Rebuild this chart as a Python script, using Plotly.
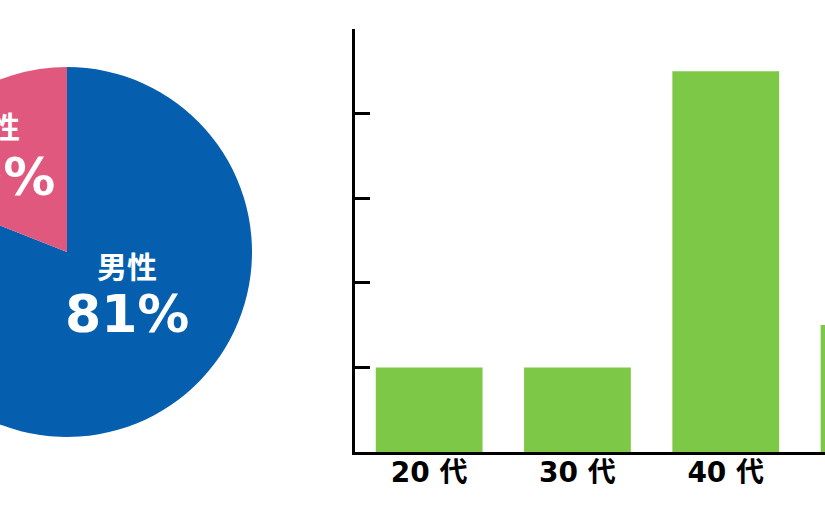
import plotly.graph_objects as go

# ---- data ----
gender_labels = ["男性", "女性"]
gender_values = [81, 19]
gender_colors = ["#055FAE", "#E0587D"]

age_labels = ["20 代", "30 代", "40 代", "50 代"]
age_values = [2, 2, 9, 3]
bar_color = "#7DC846"

# ---- layout geometry (figure is wider than the view and shifted left) ----
SHIFT = 130          # px hidden on the left
W, H = 1120, 510

def px(x):           # viewport x -> paper x
    return (x + SHIFT) / W

def py(y):           # viewport y (from top) -> paper y
    return (H - y) / H

fig = go.Figure()

fig.add_trace(go.Pie(
    labels=gender_labels,
    values=gender_values,
    marker=dict(colors=gender_colors, line=dict(width=0)),
    sort=False,
    direction="clockwise",
    rotation=0,
    textinfo="none",
    hoverinfo="skip",
    showlegend=False,
    domain=dict(x=[px(67 - 185), px(67 + 185)], y=[py(437), py(67)]),
))

fig.add_trace(go.Bar(
    x=age_labels,
    y=age_values,
    marker=dict(color=bar_color, line=dict(width=0)),
    hoverinfo="skip",
    showlegend=False,
))

fig.update_layout(
    width=W, height=H,
    margin=dict(l=0, r=0, t=0, b=0),
    paper_bgcolor="white",
    plot_bgcolor="white",
    bargap=0.28,
    xaxis=dict(
        domain=[px(355), px(355 + 4 * 148.3)],
        range=[-0.5, 3.5],
        showline=True, linewidth=3, linecolor="black",
        ticks="", showgrid=False, zeroline=False,
        ticklabelstandoff=-7,
        tickfont=dict(family="DejaVu Sans, Noto Sans CJK JP", size=28, color="black", weight="bold"),
    ),
    yaxis=dict(
        domain=[py(452), py(29)],
        range=[0, 10], dtick=2,
        showline=True, linewidth=3, linecolor="black",
        ticks="inside", ticklen=15, tickwidth=3, tickcolor="black",
        showticklabels=False, showgrid=False, zeroline=False,
    ),
)

num_font = dict(family="DejaVu Sans, Noto Sans CJK JP", size=52, color="white", weight="bold")
lab_font = dict(family="Noto Sans CJK JP", size=30, color="white", weight="bold")

# male labels
fig.add_annotation(x=px(127), y=py(265), xref="paper", yref="paper",
                   text=gender_labels[0], showarrow=False, font=lab_font,
                   xanchor="center", yanchor="middle")
fig.add_annotation(x=px(127), y=py(314), xref="paper", yref="paper",
                   text=f"{gender_values[0]}%", showarrow=False, font=num_font,
                   xanchor="center", yanchor="middle")
# female labels
fig.add_annotation(x=px(-10), y=py(125), xref="paper", yref="paper",
                   text=gender_labels[1], showarrow=False, font=lab_font,
                   xanchor="center", yanchor="middle")
fig.add_annotation(x=px(-7), y=py(177), xref="paper", yref="paper",
                   text=f"{gender_values[1]}%", showarrow=False, font=num_font,
                   xanchor="center", yanchor="middle")

fig.write_html(
    "out.html",
    config={"displayModeBar": False, "staticPlot": True},
    post_script=("document.body.style.margin='0';"
                 "var d=document.getElementById('{plot_id}'); d.style.marginLeft='-%dpx';" % SHIFT),
)
